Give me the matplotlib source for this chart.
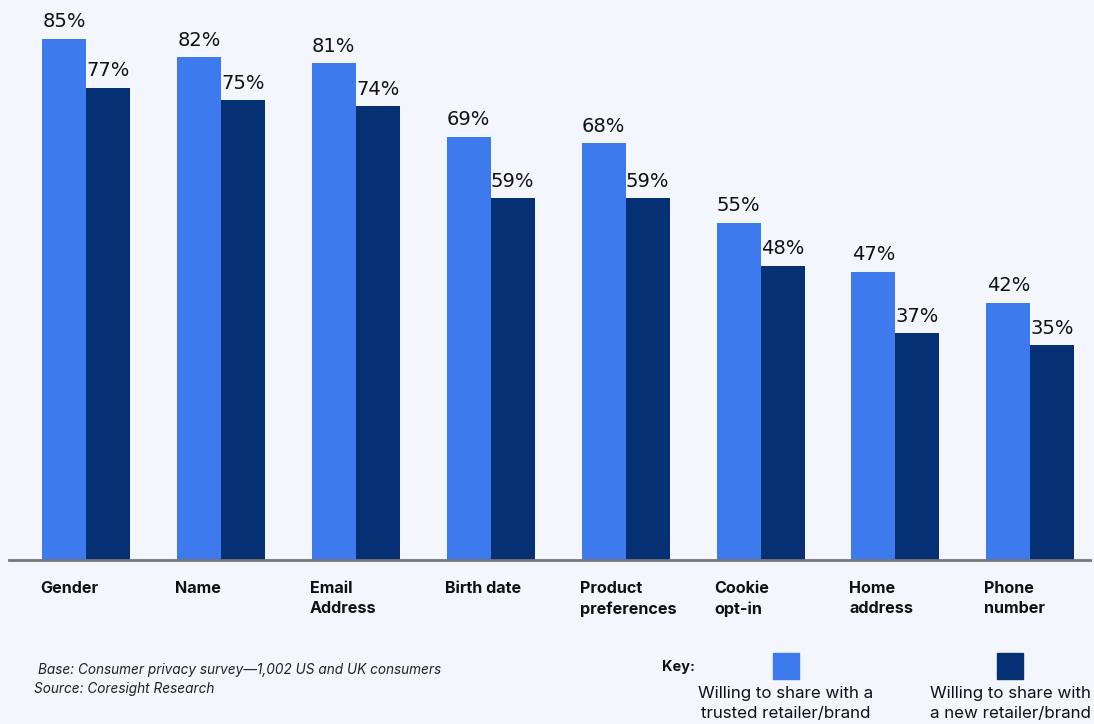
import matplotlib
matplotlib.use("Agg")
import matplotlib.pyplot as plt
from matplotlib.patches import Rectangle

categories = ["Gender", "Name", "Email\nAddress", "Birth date", "Product\npreferences",
              "Cookie\nopt-in", "Home\naddress", "Phone\nnumber"]
trusted = [85, 82, 81, 69, 68, 55, 47, 42]
new = [77, 75, 74, 59, 59, 48, 37, 35]
series_labels = ["Willing to share with a\ntrusted retailer/brand",
                 "Willing to share with\na new retailer/brand"]

C_LIGHT = "#3D7AEE"
C_DARK = "#053073"
BG = "#F3F6FD"

W, H = 1094, 724
fig = plt.figure(figsize=(W / 100, H / 100), dpi=100, facecolor=BG)

ax_l, ax_r, ax_b = 9, 1090, 560
ax = fig.add_axes([ax_l / W, (H - ax_b) / H, (ax_r - ax_l) / W, ax_b / H])
ax.set_facecolor("none")

spacing = 134.9
center0 = 86
ax.set_xlim((ax_l - center0) / spacing, (ax_r - center0) / spacing)
ax.set_ylim(0, 560 / 6.13)

bw = 44 / spacing
x = list(range(len(categories)))
b1 = ax.bar([i - bw / 2 for i in x], trusted, width=bw, color=C_LIGHT)
b2 = ax.bar([i + bw / 2 for i in x], new, width=bw, color=C_DARK)

for bars, vals in ((b1, trusted), (b2, new)):
    for rect, v in zip(bars, vals):
        ax.annotate(f"{v}%", (rect.get_x() + rect.get_width() / 2, v),
                    xytext=(0, 5.5), textcoords="offset points", ha="center", va="bottom",
                    fontsize=14, color="#111111", family="DejaVu Sans")

for s in ["top", "right", "left"]:
    ax.spines[s].set_visible(False)
ax.spines["bottom"].set_color("#777777")
ax.spines["bottom"].set_linewidth(2)
ax.set_yticks([])
ax.set_xticks([])

# category labels
for i, c in enumerate(categories):
    ax.annotate(c, (i - bw, 0), xytext=(-1.5, -15), textcoords="offset points",
                ha="left", va="top", fontsize=11.6, fontweight="bold",
                family="Inter", color="#111111", linespacing=1.45)

# footnotes
fig.text(38 / W, 1 - 670 / H, "Base: Consumer privacy survey\u20141,002 US and UK consumers",
         fontsize=9.8, style="italic", family="Inter", color="#222222", va="center", ha="left")
fig.text(34 / W, 1 - 689 / H, "Source: Coresight Research",
         fontsize=9.8, style="italic", family="Inter", color="#222222", va="center", ha="left")

# legend
fig.text(662 / W, 1 - 667 / H, "Key:", fontsize=10.5, fontweight="bold", family="Inter",
         color="#111111", va="center", ha="left")
for cx, col, lab in ((786, C_LIGHT, series_labels[0]), (1010, C_DARK, series_labels[1])):
    fig.patches.append(Rectangle(((cx - 13) / W, 1 - 679 / H), 26 / W, 26 / H,
                                 transform=fig.transFigure, color=col))
    fig.text(cx / W, 1 - 686 / H, lab, fontsize=12.2, family="Inter", color="#111111",
             ha="center", va="top", linespacing=1.38)

fig.savefig("out.png", dpi=100, facecolor=BG)
